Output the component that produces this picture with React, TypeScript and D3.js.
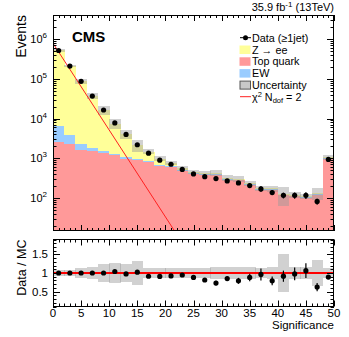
import * as d3 from 'd3';
import React from 'react';

// significance bins (low edges, width 2)
const binLow = [0, 2, 4, 6, 8, 10, 12, 14, 16, 18, 20, 22, 24, 26, 28, 30, 32, 34, 36, 38, 40, 42, 44, 46, 48];

const dataEvents = [5.2e5, 2.1e5, 8.7e4, 3.7e4, 1.65e4, 7800, 4000, 2200, 1350, 900, 710, 525, 405, 345, 310, 270, 240, 206, 170, 138, 117, 117, 117, 82, 940];
const topQuark = [2570, 2250, 1620, 1560, 1360, 1190, 980, 890, 810, 645, 600, 490, 415, 385, 385, 290, 278, 214, 162, 160, 117, 110, 101, 121, 990];
const ewk = [3890, 1540, 670, 250, 200, 120, 100, 55, 45, 45, 30, 20, 16, 14, 14, 11, 10, 8, 6, 6, 5, 4, 4, 5, 30];
const zee = [513540, 206210, 84710, 35190, 14940, 6190, 3020, 1205, 625, 300, 140, 45, 29, 26, 26, 17, 16, 12, 9, 9, 6, 6, 5, 6, 36];

// relative MC uncertainty (half width)
const mcUnc = [0.08, 0.07, 0.14, 0.17, 0.23, 0.28, 0.24, 0.31, 0.14, 0.14, 0.13, 0.13, 0.13, 0.13, 0.17, 0.17, 0.17, 0.16, 0.14, 0.17, 0.5, 0.16, 0.16, 0.34, 0.13];
// error on data/MC ratio
const ratioErr = [0.01, 0.01, 0.01, 0.01, 0.01, 0.015, 0.02, 0.02, 0.03, 0.03, 0.04, 0.04, 0.05, 0.05, 0.06, 0.06, 0.08, 0.1, 0.16, 0.12, 0.15, 0.17, 0.2, 0.11, 0.04];

// chi2 (Ndof=2) line end points
const chi2Line: [number, number][] = [[0, 7.9e5], [24, 4.5]];

const xTicksMajor = [0, 5, 10, 15, 20, 25, 30, 35, 40, 45, 50];
const logTicks = [2, 3, 4, 5, 6];
const ratioTicks = [0.5, 1, 1.5];

const font = "'Liberation Sans', Arial, Helvetica, sans-serif";

const L = 53, R = 334;
const upTop = 15, upBot = 231;
const loTop = 239.5, loBot = 306.5;

const legendItems = [
  { kind: 'data', label: 'Data (\u22651jet)' },
  { kind: 'box', color: '#ffff99', label: 'Z \u2192 ee' },
  { kind: 'box', color: '#ff9999', label: 'Top quark' },
  { kind: 'box', color: '#99ccff', label: 'EW' },
  { kind: 'unc', label: 'Uncertainty' },
  { kind: 'line', label: 'chi2' },
];

const App = () => {
  const x = d3.scaleLinear().domain([0, 50]).range([L, R]);
  const y = d3.scaleLog().domain([14.8, 4.07e6]).range([upBot, upTop]).clamp(true);
  const yr = d3.scaleLinear().domain([0.1, 1.9]).range([loBot, loTop]).clamp(true);

  const total = binLow.map((b, i) => topQuark[i] + ewk[i] + zee[i]);
  const ratio = dataEvents.map((d, i) => d / total[i]);

  const minorX = d3.range(0, 51, 1);
  const minorLog: number[] = [];
  for (let e = 1; e <= 6; e++) for (let k = 1; k <= 9; k++) minorLog.push(k * Math.pow(10, e));
  const minorRatio = d3.range(0.1, 1.91, 0.1);

  const line = d3.line<[number, number]>().x(d => x(d[0])).y(d => d3.scaleLog().domain(y.domain()).range(y.range())(d[1]));

  const tickLines = (top: number, bot: number) => (
    <g stroke="#000" strokeWidth={1}>
      {minorX.map(v => {
        const len = v % 5 === 0 ? 6 : 3;
        const px = Math.round(x(v)) + 0.5;
        return (
          <g key={v}>
            <line x1={px} x2={px} y1={top} y2={top + len} />
            <line x1={px} x2={px} y1={bot} y2={bot - len} />
          </g>
        );
      })}
    </g>
  );

  return (
    <div style={{ position: 'fixed', left: 0, top: 0 }}>
      <svg width={349} height={337} style={{ display: 'block', background: '#fff' }} fontFamily={font}>
        <defs>
          <clipPath id="upClip"><rect x={L} y={upTop} width={R - L} height={upBot - upTop} /></clipPath>
          <clipPath id="loClip"><rect x={L} y={loTop} width={R - L} height={loBot - loTop} /></clipPath>
        </defs>

        {/* upper stack */}
        <g clipPath="url(#upClip)" shapeRendering="crispEdges">
          {binLow.map((b, i) => {
            const x0 = x(b), w = x(b + 2) - x(b);
            const t1 = topQuark[i], t2 = t1 + ewk[i], t3 = total[i];
            return (
              <g key={b}>
                <rect x={x0} width={w + 0.5} y={y(t1)} height={upBot - y(t1)} fill="#ff9999" />
                <rect x={x0} width={w + 0.5} y={y(t2)} height={y(t1) - y(t2)} fill="#99ccff" />
                <rect x={x0} width={w + 0.5} y={y(t3)} height={y(t2) - y(t3)} fill="#ffff99" />
              </g>
            );
          })}
          {binLow.map((b, i) => {
            const hi = y(total[i] * (1 + mcUnc[i])), lo = y(total[i] * (1 - mcUnc[i]));
            return <rect key={b} x={x(b)} width={x(b + 2) - x(b) + 0.3} y={hi} height={lo - hi} fill="#999" fillOpacity={0.45} />;
          })}
        </g>
        <g clipPath="url(#upClip)">
          <path d={line(chi2Line) || ''} stroke="#ff2020" strokeWidth={1} fill="none" />
        </g>
        {/* data points */}
        <g>
          {binLow.map((b, i) => {
            const cx = x(b + 1);
            const rel = ratioErr[i] / ratio[i];
            return (
              <g key={b}>
                <line x1={cx} x2={cx} y1={y(dataEvents[i] * (1 + rel))} y2={y(dataEvents[i] * (1 - rel))} stroke="#000" strokeWidth={1.2} />
                <circle cx={cx} cy={y(dataEvents[i])} r={2.6} fill="#000" />
              </g>
            );
          })}
        </g>

        {/* upper frame and ticks */}
        <rect x={L + 0.5} y={upTop + 0.5} width={R - L - 1} height={upBot - upTop - 1} fill="none" stroke="#000" strokeWidth={1} />
        {tickLines(upTop, upBot)}
        <g stroke="#000" strokeWidth={1}>
          {minorLog.filter(v => v >= 14.8 && v <= 4.07e6).map(v => {
            const major = Math.abs(Math.log10(v) - Math.round(Math.log10(v))) < 1e-9;
            const len = major ? 7 : 3.5;
            const py = Math.round(y(v)) + 0.5;
            return (
              <g key={v}>
                <line x1={L} x2={L + len} y1={py} y2={py} />
                <line x1={R} x2={R - len} y1={py} y2={py} />
              </g>
            );
          })}
        </g>
        <g fontSize={11} fill="#000">
          {logTicks.map(e => (
            <text key={e} x={47} y={y(Math.pow(10, e)) + 4} textAnchor="end">
              10
              <tspan fontSize={8} dy={-5}>{e}</tspan>
            </text>
          ))}
        </g>

        {/* lower panel */}
        <g clipPath="url(#loClip)" shapeRendering="crispEdges">
          {binLow.map((b, i) => {
            const hi = yr(1 + mcUnc[i]), lo = yr(1 - mcUnc[i]);
            return <rect key={b} x={x(b)} width={x(b + 2) - x(b) + 0.3} y={hi} height={lo - hi} fill="#999" fillOpacity={0.45} />;
          })}
          <line x1={L} x2={R} y1={yr(1)} y2={yr(1)} stroke="#ff0000" strokeWidth={1.5} />
        </g>
        <g>
          {binLow.map((b, i) => {
            const cx = x(b + 1);
            return (
              <g key={b}>
                <line x1={cx} x2={cx} y1={yr(ratio[i] + ratioErr[i])} y2={yr(ratio[i] - ratioErr[i])} stroke="#000" strokeWidth={1.2} />
                <circle cx={cx} cy={yr(ratio[i])} r={2.6} fill="#000" />
              </g>
            );
          })}
        </g>
        <rect x={L + 0.5} y={loTop} width={R - L - 1} height={loBot - loTop} fill="none" stroke="#000" strokeWidth={1} />
        {tickLines(loTop, loBot)}
        <g stroke="#000" strokeWidth={1}>
          {minorRatio.map(v => {
            const major = Math.abs(v * 2 - Math.round(v * 2)) < 1e-6;
            const len = major ? 7 : 3.5;
            const py = Math.round(yr(v)) + 0.5;
            return (
              <g key={v.toFixed(1)}>
                <line x1={L} x2={L + len} y1={py} y2={py} />
                <line x1={R} x2={R - len} y1={py} y2={py} />
              </g>
            );
          })}
        </g>
        <g fontSize={11.5} fill="#000" textAnchor="end">
          {ratioTicks.map(v => (
            <text key={v} x={48} y={yr(v) + 4}>{v}</text>
          ))}
        </g>
        <g fontSize={11.5} fill="#000" textAnchor="middle">
          {xTicksMajor.map(v => (
            <text key={v} x={x(v)} y={317}>{v}</text>
          ))}
        </g>
        <text x={R} y={329} fontSize={11.5} textAnchor="end">Significance</text>

        {/* axis titles */}
        <text transform={`translate(26,${upTop}) rotate(-90)`} fontSize={14} textAnchor="end">Events</text>
        <text transform={`translate(26,${loTop}) rotate(-90)`} fontSize={12.5} textAnchor="end">Data / MC</text>

        <text x={72} y={42} fontSize={15} fontWeight="bold">CMS</text>
        <text x={R} y={11} fontSize={11} textAnchor="end">
          35.9 fb<tspan fontSize={8} dy={-4}>-1</tspan><tspan dy={4}> (13TeV)</tspan>
        </text>

        {/* legend */}
        <g fontSize={10.8}>
          {legendItems.map((it, i) => {
            const cy = 37.7 + i * 11.8;
            const tx = 252;
            let marker: React.ReactNode = null;
            if (it.kind === 'data') {
              marker = (
                <g>
                  <line x1={240} x2={251} y1={cy} y2={cy} stroke="#000" strokeWidth={1} />
                  <circle cx={245.5} cy={cy} r={2.5} fill="#000" />
                </g>
              );
            } else if (it.kind === 'box') {
              marker = <rect x={239.5} y={cy - 4} width={11} height={8.5} fill={it.color} />;
            } else if (it.kind === 'unc') {
              marker = <rect x={240} y={cy - 3.8} width={10.5} height={8} fill="#c8c8c8" stroke="#555" strokeWidth={1} />;
            } else {
              marker = <line x1={240} x2={251} y1={cy} y2={cy} stroke="#ff2020" strokeWidth={1} />;
            }
            return (
              <g key={i}>
                {marker}
                {it.kind === 'line' ? (
                  <text x={tx} y={cy + 4}>
                    {'\u03c7'}<tspan fontSize={7.5} dy={-4}>2</tspan><tspan dy={4}> N</tspan><tspan fontSize={7.5} dy={2.5}>dof</tspan><tspan dy={-2.5}> = 2</tspan>
                  </text>
                ) : (
                  <text x={tx} y={cy + 4}>{it.label}</text>
                )}
              </g>
            );
          })}
        </g>
      </svg>
    </div>
  );
};

export default App;
